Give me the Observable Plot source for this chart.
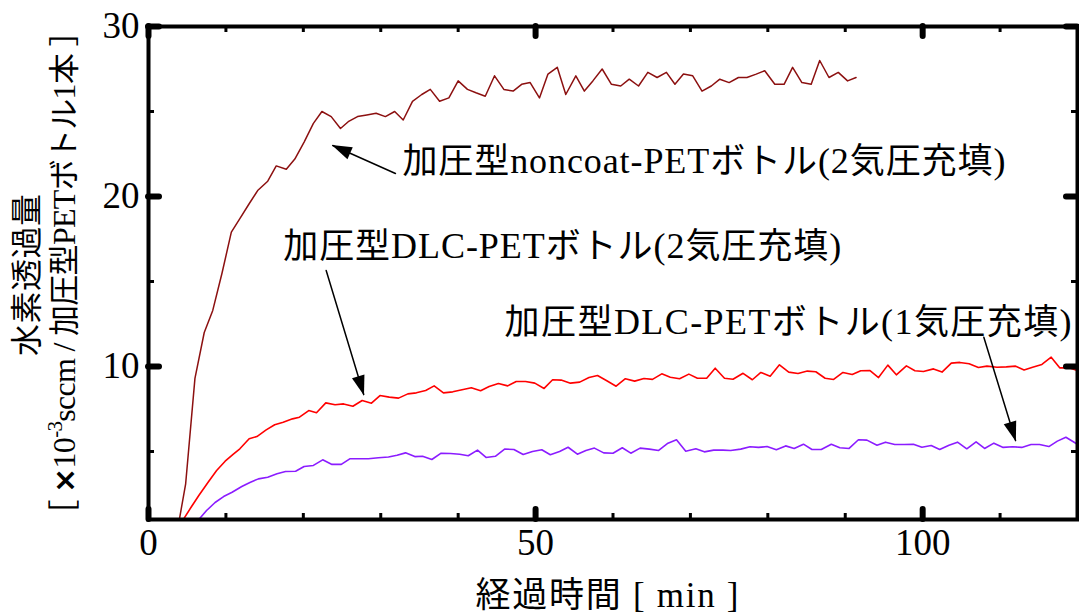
<!DOCTYPE html>
<html><head><meta charset="utf-8">
<script src="https://cdn.jsdelivr.net/npm/d3@7"></script>
<script src="https://cdn.jsdelivr.net/npm/@observablehq/plot@0.6"></script>
<style>body{margin:0;background:#fff;} #chart svg{display:block;}</style>
</head><body><div id="chart"></div>
<script>
// ---- data ----
const noncoatTime = [3.6,4.8,6.0,7.2,8.3,9.5,10.7,11.8,12.9,14.1,15.4,16.5,17.8,18.9,20.1,21.3,22.4,23.6,24.8,25.8,27.0,28.2,29.4,30.6,31.8,32.9,34.1,35.3,36.4,37.6,38.8,40.0,41.2,42.3,43.5,44.7,45.9,47.1,48.2,49.3,50.5,51.6,52.8,53.9,55.2,56.3,57.4,58.6,59.8,61.0,62.1,63.3,64.5,65.7,66.9,68.0,69.1,70.3,71.5,72.7,73.8,75.0,76.2,77.3,78.5,79.6,80.9,82.1,83.2,84.4,85.6,86.7,87.9,89.1,90.3,91.4];
const noncoatValue = [0,3.1,9.3,12.0,13.3,15.5,17.9,18.7,19.5,20.35,20.9,21.8,21.6,22.2,23.2,24.3,25.0,24.7,24.0,24.4,24.7,24.8,24.9,24.7,25.0,24.5,25.6,26.0,26.3,25.6,25.8,26.8,26.3,26.1,25.9,27.1,26.3,26.2,26.6,26.7,25.8,27.2,27.6,26.0,27.1,26.2,26.8,27.5,26.6,26.5,26.9,26.5,27.3,27.0,27.3,26.6,27.2,27.1,26.2,26.5,26.9,26.7,27.0,27.0,27.2,27.4,26.6,26.6,27.6,26.7,26.6,28.0,27.0,27.3,26.8,27.0];

const dlc2Time = [4.5,5.5,6.5,7.7,8.8,9.9,11.0,11.8,13.0,14.0,15.2,16.3,17.4,18.6,19.5,20.7,21.7,22.9,24.1,25.2,26.4,27.6,28.8,29.9,31.1,32.3,33.5,34.6,35.8,36.9,38.1,39.3,40.5,41.7,42.9,44.0,45.2,46.4,47.5,48.7,49.9,51.1,52.2,53.3,54.5,55.7,56.9,58.0,59.2,60.4,61.6,62.8,64.0,65.1,66.3,67.4,68.6,69.8,70.9,72.1,73.2,74.4,75.5,76.8,78.0,79.1,80.3,81.5,82.7,83.9,85.1,86.2,87.4,88.5,89.7,90.9,92.0,93.2,94.3,95.5,96.6,97.9,99.0,100.1,101.4,102.5,103.7,104.8,106.0,107.2,108.3,109.6,110.8,112.0,113.1,114.2,115.4,116.6,117.7,118.9,120.2];
const dlc2Value = [1.0,1.72,2.41,3.19,3.88,4.43,4.86,5.16,5.75,5.88,6.27,6.57,6.72,6.92,7.02,7.41,7.28,7.86,7.75,7.8,7.66,8.0,7.84,8.29,8.2,8.14,8.39,8.45,8.59,8.86,8.45,8.51,8.63,8.75,8.57,8.82,9.0,8.86,9.12,9.12,9.02,8.71,9.22,9.2,9.02,9.08,9.35,9.47,9.16,8.84,9.28,9.14,9.29,9.24,9.57,9.37,9.28,9.55,9.31,9.31,9.9,9.31,9.25,9.6,9.22,9.65,9.43,10.1,9.67,9.59,9.73,9.69,9.31,9.24,9.65,9.53,9.75,9.76,9.35,10.08,9.51,10.04,9.75,9.71,9.86,9.67,10.2,10.24,10.16,9.94,10.02,9.96,9.98,10.02,9.8,9.96,10.12,10.55,9.92,9.92,9.73];

const dlc1Time = [6.5,7.5,8.6,9.7,10.8,12.05,13.1,14.2,15.4,16.6,17.7,19.0,20.1,21.3,22.5,23.7,24.9,26.0,27.3,28.4,29.7,31.0,32.1,33.2,34.4,35.4,36.6,37.8,39.0,40.2,41.3,42.5,43.6,44.8,46.0,47.2,48.4,49.6,50.8,51.9,53.1,54.2,55.4,56.5,57.6,58.8,60.0,61.2,62.3,63.5,64.7,65.9,67.1,68.2,69.4,70.7,71.8,73.0,74.2,75.2,76.5,77.7,78.8,79.9,81.1,82.3,83.4,84.6,85.7,86.9,88.2,89.3,90.5,91.7,92.8,94.1,95.2,96.4,97.6,98.8,99.9,101.1,102.2,103.4,104.5,105.7,106.9,108.0,109.2,110.4,111.6,112.8,114.0,115.1,116.3,117.4,118.5,120.2];
const dlc1Value = [1.0,1.53,2.0,2.35,2.6,2.94,3.18,3.39,3.49,3.69,3.82,3.84,4.12,4.18,4.51,4.24,4.24,4.57,4.57,4.57,4.63,4.68,4.78,4.92,4.7,4.72,4.53,4.9,4.88,4.84,4.75,5.08,4.65,4.72,5.14,5.12,4.82,5.0,5.1,4.81,5.0,5.25,4.84,5.06,5.2,4.92,4.9,5.22,4.9,5.2,5.14,5.06,5.49,5.69,5.02,5.16,4.98,5.08,5.08,5.06,5.14,5.28,5.24,5.29,5.1,5.33,5.18,5.43,5.12,5.12,5.43,5.22,5.18,5.69,5.67,5.37,5.55,5.41,5.41,5.43,5.25,5.35,5.12,5.37,5.55,5.16,5.57,5.18,5.49,5.24,5.28,5.24,5.41,5.41,5.29,5.61,5.84,5.37];

const seriesLabels = ["加圧型noncoat-PETボトル(2気圧充填)", "加圧型DLC-PETボトル(2気圧充填)", "加圧型DLC-PETボトル(1気圧充填)"];
const labelTime  = [32.8, 17.4, 46.0];
const labelValue = [22.06, 17.06, 12.6];
const arrowFromTime  = [31.9, 22.95, 107.9];
const arrowFromValue = [21.35, 15.65, 11.72];
const arrowToTime    = [23.8, 27.8, 112.0];
const arrowToValue   = [23.0, 8.35, 5.65];

const xTickLabels = [0, 50, 100];
const xMinorTicks = [10, 20, 30, 40, 60, 70, 80, 90, 110];
const yTickLabels = [10, 20, 30];
const yMinorTicks = [5, 15, 25];
const xTitle = "経過時間 [ min ]";
const yTitle1 = "水素透過量";
const yTitle2 = "［ ×10-3sccm / 加圧型PETボトル1本 ］";

// ---- build tables ----
const toRows = (t, v) => t.map((x, i) => ({t: x, v: v[i]}));
const noncoat = toRows(noncoatTime, noncoatValue);
const dlc2 = toRows(dlc2Time, dlc2Value);
const dlc1 = toRows(dlc1Time, dlc1Value);
const arrows = [];
arrowFromTime.forEach((_, i) => {
  arrows.push({id: i, t: arrowFromTime[i], v: arrowFromValue[i]});
  arrows.push({id: i, t: arrowToTime[i], v: arrowToValue[i]});
});
const annots = seriesLabels.map((s, i) => ({s, t: labelTime[i], v: labelValue[i]}));

function arrowHead(color, context) {
  const m = d3.create("svg:marker")
    .attr("viewBox", "-22 -8 24 16")
    .attr("markerWidth", 24).attr("markerHeight", 16)
    .attr("markerUnits", "userSpaceOnUse")
    .attr("orient", "auto")
    .attr("refX", 0).attr("refY", 0)
    .attr("overflow", "visible");
  m.append("path").attr("d", "M1,0L-19,-6.5L-19,6.5Z").attr("fill", "black").attr("stroke", "none");
  return m.node();
}

const PH = 493, PW = 929; // plot area size in px (for tick insets)
const tickStyle = {stroke: "black"};

const plot = Plot.plot({
  width: 1079, height: 616,
  marginLeft: 148, marginRight: 2, marginTop: 26, marginBottom: 97,
  x: {domain: [0, 120]},
  y: {domain: [1, 30]},
  style: {fontFamily: "'Liberation Serif', 'Noto Sans CJK JP', serif", background: "white", color: "black"},
  marks: [
    Plot.line(noncoat, {x: "t", y: "v", stroke: "#8c1010", strokeWidth: 1.5, clip: true}),
    Plot.line(dlc2, {x: "t", y: "v", stroke: "#ff0000", strokeWidth: 1.6, clip: true}),
    Plot.line(dlc1, {x: "t", y: "v", stroke: "#8b1cff", strokeWidth: 1.6, clip: true}),
    Plot.line(arrows, {x: "t", y: "v", z: "id", stroke: "black", strokeWidth: 1.5, markerEnd: arrowHead}),
    Plot.text(annots, {x: "t", y: "v", text: "s", textAnchor: "start", lineAnchor: "middle", fontSize: 35, fill: "black"}),
    Plot.frame({stroke: "black", strokeWidth: 4}),
    // major ticks
    Plot.tickX(xTickLabels, {x: d => d, ...tickStyle, strokeWidth: 6, strokeLinecap: "round", insetTop: PH - 10}),
    Plot.tickX(xTickLabels, {x: d => d, ...tickStyle, strokeWidth: 6, strokeLinecap: "round", insetBottom: PH - 10}),
    Plot.tickY(yTickLabels, {y: d => d, ...tickStyle, strokeWidth: 6, strokeLinecap: "round", insetRight: PW - 11}),
    Plot.tickY(yTickLabels, {y: d => d, ...tickStyle, strokeWidth: 6, strokeLinecap: "round", insetLeft: PW - 11}),
    // minor ticks
    Plot.tickX(xMinorTicks, {x: d => d, ...tickStyle, strokeWidth: 3, insetTop: PH - 6}),
    Plot.tickX(xMinorTicks, {x: d => d, ...tickStyle, strokeWidth: 3, insetBottom: PH - 6}),
    Plot.tickY(yMinorTicks, {y: d => d, ...tickStyle, strokeWidth: 3, insetRight: PW - 6}),
    Plot.tickY(yMinorTicks, {y: d => d, ...tickStyle, strokeWidth: 3, insetLeft: PW - 6}),
    Plot.axisX(xTickLabels, {tickSize: 0, tickPadding: 9, fontSize: 37, label: null, fill: "black"}),
    Plot.axisY(yTickLabels, {tickSize: 0, tickPadding: 9, fontSize: 37, label: null, fill: "black"}),
    Plot.text([xTitle], {text: d => d, frameAnchor: "bottom", textAnchor: "middle", lineAnchor: "middle", dy: 77, dx: -6, fontSize: 34, fill: "black"}),
    Plot.text([yTitle1], {text: d => d, frameAnchor: "left", textAnchor: "middle", lineAnchor: "middle", rotate: -90, dx: -121, dy: 2, fontSize: 32, fill: "black"}),
    Plot.text([yTitle2], {text: d => d, frameAnchor: "left", textAnchor: "middle", lineAnchor: "middle", rotate: -90, dx: -83, fontSize: 30, fill: "black"})
  ]
});
document.getElementById("chart").appendChild(plot);

// ---- mixed-font text runs (Gothic CJK + serif Latin) ----
const cjkClass = "\u3000-\u30ff\u3400-\u9fff\uff00-\uffef";
const cjkTest = new RegExp(`[${cjkClass}]`);
const runRe = new RegExp(`[${cjkClass}]+|[^${cjkClass}]+`, "g");
function styleRuns(el, cjkSize, latSize, length) {
  const s = el.textContent;
  const sel = d3.select(el);
  sel.text(null);
  for (const r of s.match(runRe)) {
    const cjk = cjkTest.test(r);
    sel.append("tspan")
      .attr("font-family", cjk ? "'Noto Sans CJK JP'" : "'Liberation Serif'")
      .attr("font-size", cjk ? cjkSize : latSize)
      .text(r);
  }
  if (length) sel.attr("textLength", length).attr("lengthAdjust", "spacing");
}
function buildYTitle2(el) {
  const sel = d3.select(el);
  sel.text(null);
  const parts = [["［", "c"], [" ", "l"], ["×", "x"], ["10", "l"], ["-3", "s"], ["sccm / ", "l"], ["加圧型", "c"], ["PET", "l"], ["ボトル", "c"], ["1", "l"], ["本", "c"], [" ", "l"], ["］", "c"]];
  let raised = false;
  for (const [txt, k] of parts) {
    const ts = sel.append("tspan").text(txt);
    if (k === "c") ts.attr("font-family", "'Noto Sans CJK JP'").attr("font-size", 31);
    else if (k === "x") ts.attr("font-family", "'DejaVu Sans'").attr("font-weight", "bold").attr("font-size", 30);
    else ts.attr("font-family", "'Liberation Serif'").attr("font-size", k === "s" ? 21 : 32);
    if (k === "s") { ts.attr("dy", -13); raised = true; }
    else if (raised) { ts.attr("dy", 13); raised = false; }
  }
  sel.attr("textLength", 515).attr("lengthAdjust", "spacing");
}
const annotLengths = [603, 558, 567];
d3.select(plot).selectAll("text").each(function() {
  const s = this.textContent;
  const ai = seriesLabels.indexOf(s);
  if (ai >= 0) styleRuns(this, 35, 36, annotLengths[ai]);
  else if (s === xTitle) styleRuns(this, 35, 35, 263);
  else if (s === yTitle1) styleRuns(this, 32, 32, 162);
  else if (s === yTitle2) buildYTitle2(this);
});
</script>
</body></html>
